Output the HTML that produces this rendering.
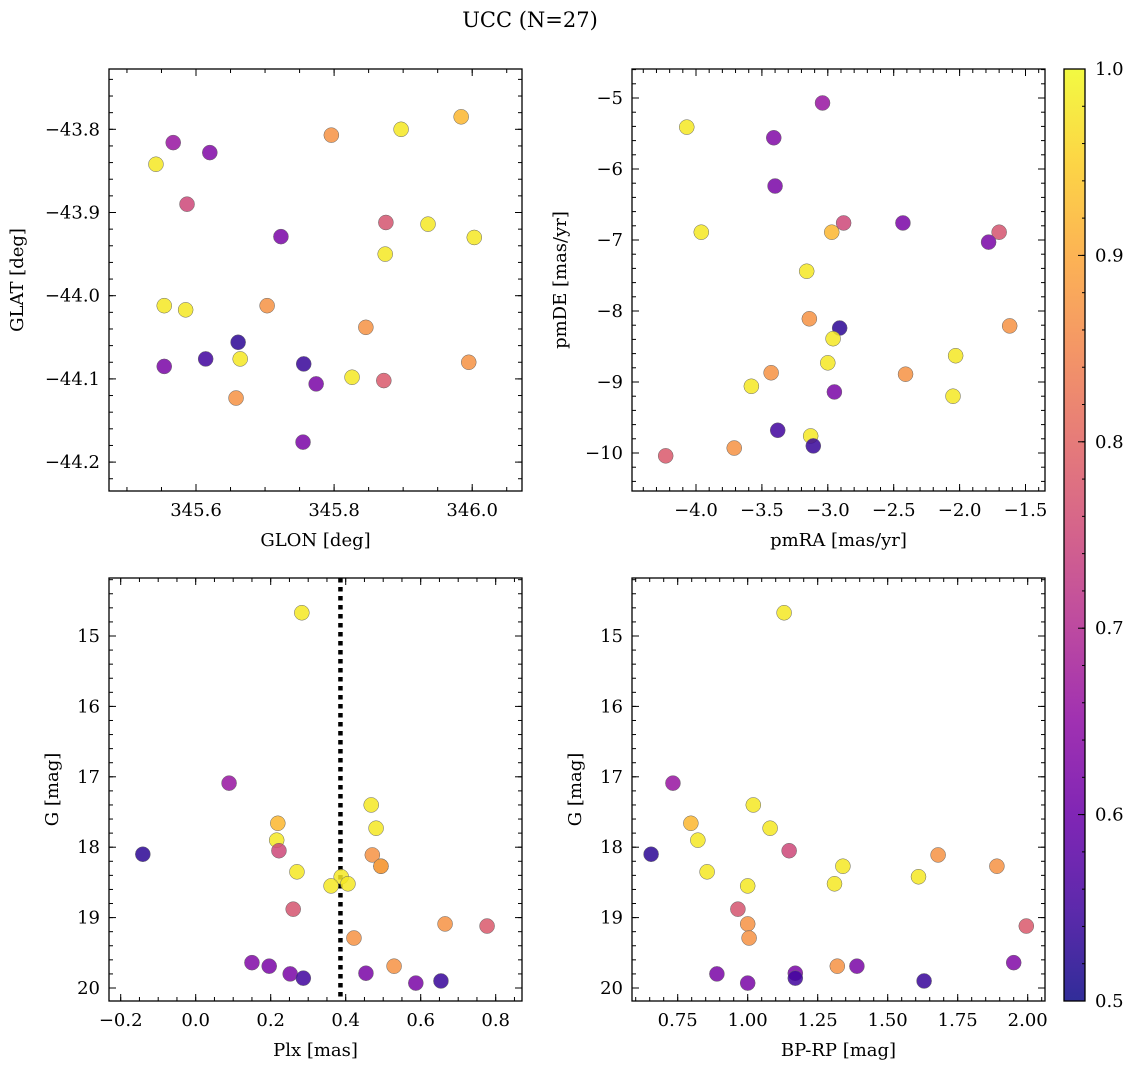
<!DOCTYPE html>
<html><head><meta charset="utf-8"><style>
html,body{margin:0;padding:0;background:#fff;}
svg{display:block;font-family:"DejaVu Serif","Liberation Serif",serif;}
</style></head><body>
<svg id="chart" width="1136" height="1068" viewBox="0 0 1136 1068" xmlns="http://www.w3.org/2000/svg">
<text x="530" y="27" font-size="21" text-anchor="middle">UCC (N=27)</text>
</svg>
<script>
const glon=[345.542,345.567,345.661,345.897,345.936,345.984,346.003,345.587,345.796,345.874,345.554,345.703,345.585,345.664,345.826,345.875,345.846,345.995,345.872,345.658,345.620,345.723,345.554,345.774,345.614,345.756,345.755];
const glat=[-43.842,-43.816,-44.056,-43.800,-43.914,-43.785,-43.930,-43.890,-43.807,-43.950,-44.012,-44.012,-44.017,-44.076,-44.098,-43.912,-44.038,-44.080,-44.102,-44.123,-43.828,-43.929,-44.085,-44.106,-44.076,-44.082,-44.176];
const pmra=[-4.07,-3.04,-2.91,-3.96,-3.16,-2.97,-2.96,-2.88,-3.14,-2.03,-3.00,-1.62,-3.58,-3.13,-2.05,-1.70,-3.43,-2.41,-4.23,-3.71,-3.41,-3.40,-2.43,-1.78,-3.38,-3.11,-2.95];
const pmde=[-5.41,-5.07,-8.24,-6.89,-7.44,-6.89,-8.39,-6.76,-8.11,-8.63,-8.73,-8.21,-9.06,-9.76,-9.20,-6.89,-8.87,-8.89,-10.04,-9.93,-5.56,-6.24,-6.76,-7.03,-9.68,-9.90,-9.14];
const plx=[0.283,0.089,-0.141,0.468,0.481,0.219,0.216,0.222,0.471,0.270,0.494,0.494,0.388,0.406,0.361,0.260,0.665,0.422,0.777,0.529,0.150,0.196,0.252,0.454,0.287,0.654,0.587];
const gmag=[14.67,17.09,18.10,17.40,17.73,17.66,17.90,18.05,18.11,18.35,18.27,18.27,18.42,18.52,18.55,18.88,19.09,19.29,19.12,19.69,19.64,19.69,19.80,19.79,19.86,19.90,19.93];
const bprp=[1.13,0.733,0.655,1.02,1.08,0.797,0.822,1.148,1.68,0.855,1.34,1.89,1.61,1.31,1.00,0.965,1.00,1.005,1.995,1.32,1.95,1.39,0.89,1.17,1.17,1.63,1.00];
const prob=[0.98,0.66,0.53,0.98,0.98,0.92,0.98,0.75,0.87,0.98,0.98,0.87,0.98,0.98,0.98,0.77,0.87,0.87,0.78,0.87,0.63,0.62,0.62,0.62,0.55,0.54,0.62];
const plxLine=[0.386];
const cbTicks=[0.5,0.6,0.7,0.8,0.9,1.0];

const NS="http://www.w3.org/2000/svg";
const svg=document.getElementById('chart');
function mk(tag,attrs,parent){const e=document.createElementNS(NS,tag);for(const k in attrs)e.setAttribute(k,attrs[k]);(parent||svg).appendChild(e);return e;}
const stops=[[0,[13,8,135]],[0.1,[65,4,157]],[0.2,[106,0,168]],[0.3,[143,13,164]],[0.4,[177,42,144]],[0.5,[204,71,120]],[0.6,[225,100,98]],[0.7,[242,132,75]],[0.8,[252,166,54]],[0.9,[252,206,37]],[1.0,[240,249,33]]];
function plasma(t){t=Math.max(0,Math.min(1,t));for(let i=1;i<stops.length;i++){if(t<=stops[i][0]){const a=stops[i-1],b=stops[i];const f=(t-a[0])/(b[0]-a[0]);const c=a[1].map((v,j)=>Math.round(v+(b[1][j]-v)*f));return 'rgb('+c.join(',')+')';}}return 'rgb(240,249,33)';}
function pcol(p){return plasma((p-0.5)/0.5);}
function fmt(v,d){const s=Math.abs(v).toFixed(d);return (v<-1e-9?'\u2212':'')+s;}
const FS=18;
function panel(o){
  const g=mk('g',{});
  
  
  const sx=v=>o.x0+(v-o.xmin)/(o.xmax-o.xmin)*(o.x1-o.x0);
  const sy=v=>o.y0+(v-o.ymax)/(o.ymin-o.ymax)*(o.y1-o.y0);
  const syInv=v=>o.y0+(v-o.ymin)/(o.ymax-o.ymin)*(o.y1-o.y0);
  const Y=o.invert?syInv:sy;
  const tg=mk('g',{stroke:'#000','stroke-width':1},g);
  function xt(step,len,labels,dec){const s0=Math.ceil(o.xmin/step-1e-6);for(let k=s0;k*step<=o.xmax+1e-9;k++){const v=k*step,x=sx(v);mk('line',{x1:x,x2:x,y1:o.y1,y2:o.y1-len},tg);mk('line',{x1:x,x2:x,y1:o.y0,y2:o.y0+len},tg);if(labels){const t=mk('text',{x:x,y:o.y1+25,'font-size':FS,'text-anchor':'middle',stroke:'none'},g);t.textContent=fmt(v,dec);}}}
  function yt(step,len,labels,dec){const s0=Math.ceil(Math.min(o.ymin,o.ymax)/step-1e-6);const hi=Math.max(o.ymin,o.ymax);for(let k=s0;k*step<=hi+1e-9;k++){const v=k*step,y=Y(v);mk('line',{x1:o.x0,x2:o.x0+len,y1:y,y2:y},tg);mk('line',{x1:o.x1,x2:o.x1-len,y1:y,y2:y},tg);if(labels){const t=mk('text',{x:o.x0-9,y:y+6,'font-size':FS,'text-anchor':'end',stroke:'none'},g);t.textContent=fmt(v,dec);}}}
  xt(o.xminor,4,false);xt(o.xmajor,7,true,o.xdec);
  yt(o.yminor,4,false);yt(o.ymajor,7,true,o.ydec);
  if(o.vline){for(const v of o.vline){const l=mk('line',{x1:sx(v),x2:sx(v),y1:o.y0,y2:o.y1,stroke:'#000','stroke-width':4.5,'stroke-dasharray':'4.5 4.5'},g);}}
  for(let i=0;i<o.xs.length;i++){
    const c=mk('circle',{cx:sx(o.xs[i]),cy:Y(o.ys[i]),r:7.5,fill:pcol(prob[i]),'fill-opacity':0.85,stroke:'#666','stroke-width':0.5},g);
    
    
  }
  const fr=mk('rect',{x:o.x0,y:o.y0,width:o.x1-o.x0,height:o.y1-o.y0,fill:'none',stroke:'#000','stroke-width':1.3},g);
  
  const xl=mk('text',{x:(o.x0+o.x1)/2,y:o.y1+55,'font-size':FS,'text-anchor':'middle'},g);xl.textContent=o.xlabel;
  
  const yl=mk('text',{x:0,y:0,'font-size':FS,'text-anchor':'middle',transform:'translate('+o.ylx+','+((o.y0+o.y1)/2)+') rotate(-90)'},g);yl.textContent=o.ylabel;
  
}
panel({name:'glon-glat-panel',x0:109,x1:522,y0:69,y1:491,xmin:345.6-87/690.5,xmax:345.6+326/690.5,ymin:-43.8-(491-129.3)/832,ymax:-43.8+(129.3-69)/832,xmajor:0.2,xminor:0.05,ymajor:0.1,yminor:0.02,xdec:1,ydec:1,xs:glon,ys:glat,xlabel:'GLON [deg]',ylabel:'GLAT [deg]',ylx:23});
panel({name:'proper-motion-panel',x0:632,x1:1045,y0:69,y1:491,xmin:-4-(696-632)/131.8,xmax:-4+(1045-696)/131.8,ymin:-5-(491-98)/71,ymax:-5+(98-69)/71,xmajor:0.5,xminor:0.1,ymajor:1,yminor:0.2,xdec:1,ydec:0,xs:pmra,ys:pmde,xlabel:'pmRA [mas/yr]',ylabel:'pmDE [mas/yr]',ylx:566});
panel({name:'plx-g-panel',x0:109,x1:522,y0:578,y1:1001,xmin:-(195.7-109)/375,xmax:(522-195.7)/375,ymin:15-(636-578)/70.4,ymax:15+(1001-636)/70.4,invert:true,xmajor:0.2,xminor:0.05,ymajor:1,yminor:0.2,xdec:1,ydec:0,xs:plx,ys:gmag,vline:plxLine,xlabel:'Plx [mas]',ylabel:'G [mag]',ylx:58});
panel({name:'cmd-panel',x0:632,x1:1045,y0:578,y1:1001,xmin:1-(747.7-632)/280,xmax:1+(1045-747.7)/280,ymin:15-(636-578)/70.4,ymax:15+(1001-636)/70.4,invert:true,xmajor:0.25,xminor:0.05,ymajor:1,yminor:0.2,xdec:2,ydec:0,xs:bprp,ys:gmag,xlabel:'BP-RP [mag]',ylabel:'G [mag]',ylx:581});
const cb=mk('g',{});


const defs=mk('defs',{},cb);
const lg=mk('linearGradient',{id:'cbg',x1:0,y1:1,x2:0,y2:0},defs);
for(let k=0;k<=20;k++){mk('stop',{offset:(k/20),'stop-color':plasma(k/20)},lg);}
const cx0=1064,cx1=1085,cy0=69,cy1=1001;
mk('rect',{x:cx0,y:cy0,width:cx1-cx0,height:cy1-cy0,fill:'url(#cbg)','fill-opacity':0.85},cb);
mk('rect',{x:cx0,y:cy0,width:cx1-cx0,height:cy1-cy0,fill:'none',stroke:'#000','stroke-width':1.3},cb);
const cy=v=>cy1-(v-0.5)/0.5*(cy1-cy0);
for(let k=25;k<=50;k++){const v=k/50,y=cy(v);mk('line',{x1:cx1,x2:cx1-3,y1:y,y2:y,stroke:'#000','stroke-width':1},cb);}
for(const v of cbTicks){const y=cy(v);mk('line',{x1:cx1,x2:cx1-7,y1:y,y2:y,stroke:'#000','stroke-width':1},cb);
 const t=mk('text',{x:cx1+10,y:y+6,'font-size':FS},cb);t.textContent=v.toFixed(1);
 }
</script>
</body></html>
